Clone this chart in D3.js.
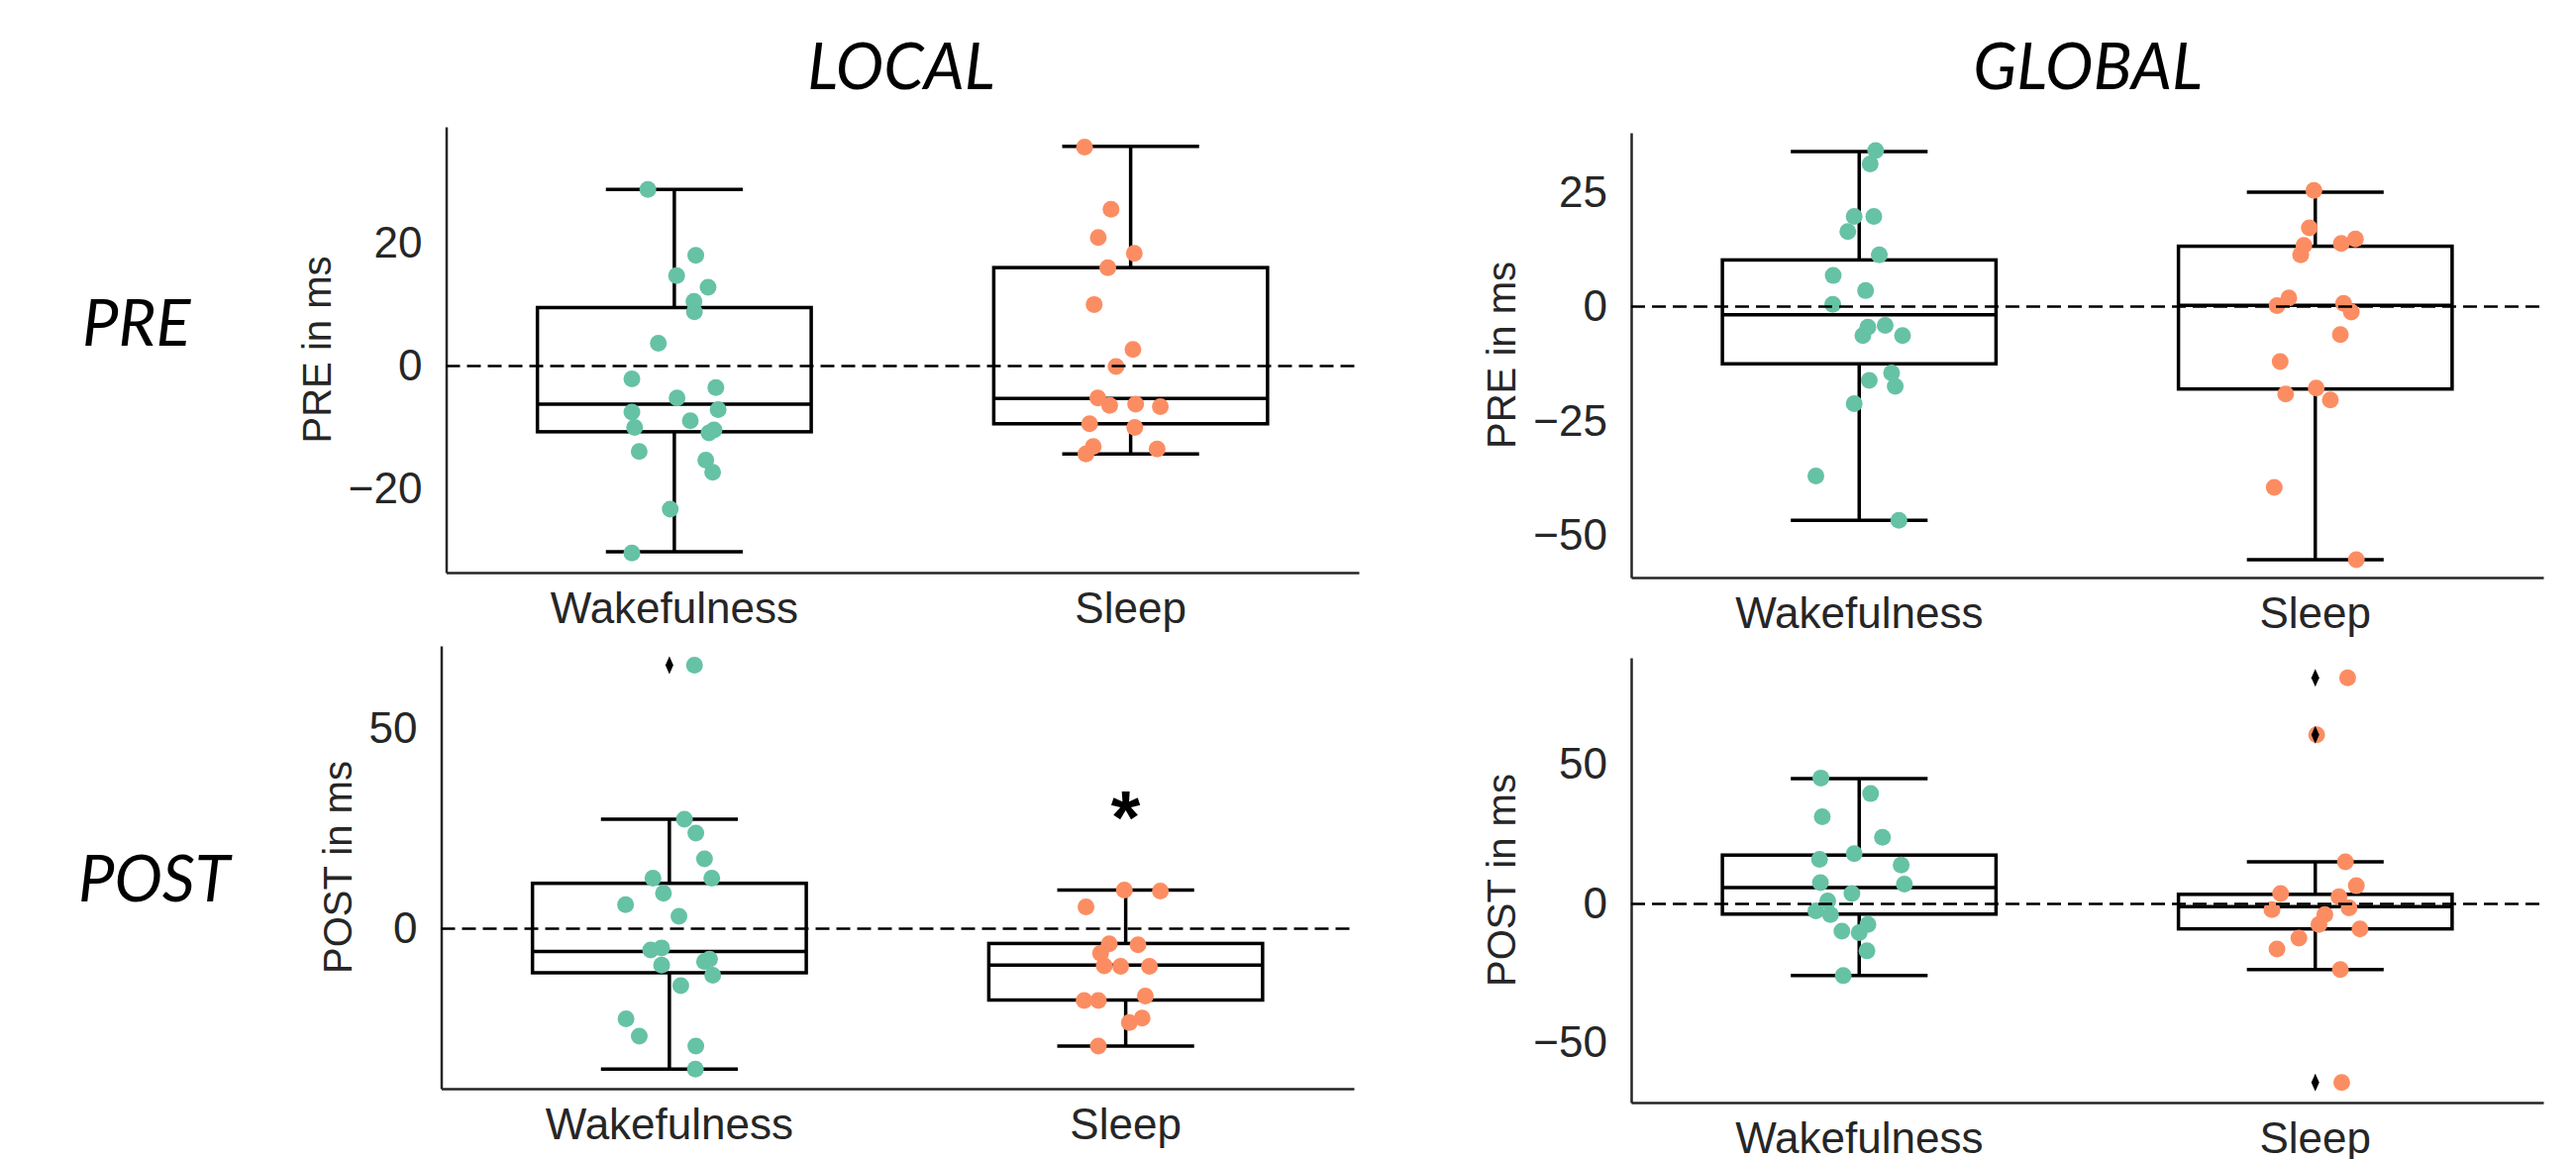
<!DOCTYPE html>
<html>
<head>
<meta charset="utf-8">
<script src="https://cdn.jsdelivr.net/npm/d3@7"></script>
<style>
  body { margin: 0; background: #fff; }
  svg { display: block; }
</style>
</head>
<body>
<svg id="chart" width="2601" height="1170"></svg>
<script>
// ---- data ----
const categories = ["Wakefulness", "Sleep"];
const columnTitles = ["LOCAL", "GLOBAL"];
const rowTitles = ["PRE", "POST"];

// box stats: [lower whisker, q1, median, q3, upper whisker]
const localPreWake = [28.7, 18.0, 14.7, 12.8, 10.5, 8.8, 3.7, -2.1, -3.5, -5.2, -7.1, -7.5, -8.9, -10.0, -10.4, -10.9, -13.9, -15.3, -17.3, -23.3, -30.4];
const localPreWakeJitter = [-0.058, 0.047, 0.005, 0.074, 0.043, 0.044, -0.035, -0.093, 0.091, 0.006, 0.096, -0.093, 0.035, -0.087, 0.087, 0.076, -0.077, 0.069, 0.084, -0.009, -0.093];
const localPreWakeBox = [-30.2, -10.7, -6.2, 9.5, 28.7];
const localPreSleep = [35.6, 25.5, 20.9, 18.3, 16.0, 10.0, 2.7, -0.1, -5.2, -6.4, -6.2, -6.6, -9.4, -10.0, -13.1, -14.3, -13.5];
const localPreSleepJitter = [-0.101, -0.043, -0.071, 0.008, -0.050, -0.080, 0.005, -0.032, -0.072, -0.046, 0.011, 0.065, -0.090, 0.009, -0.082, -0.098, 0.058];
const localPreSleepBox = [-14.3, -9.4, -5.3, 16.0, 35.7];

const globalPreWake = [34.1, 31.2, 19.7, 19.7, 16.4, 11.3, 6.8, 3.5, 0.5, -4.5, -4.1, -6.3, -6.3, -14.5, -16.1, -17.4, -21.2, -37.0, -46.7];
const globalPreWakeJitter = [0.036, 0.024, -0.011, 0.032, -0.025, 0.044, -0.057, 0.014, -0.058, 0.019, 0.057, 0.008, 0.095, 0.071, 0.022, 0.079, -0.011, -0.095, 0.087];
const globalPreWakeBox = [-46.7, -12.5, -1.8, 10.2, 33.9];
const globalPreSleep = [25.4, 17.2, 13.4, 11.3, 13.8, 14.8, 1.9, 0.2, 0.7, -1.2, -6.1, -12.0, -19.1, -17.8, -20.4, -39.5, -55.3];
const globalPreSleepJitter = [-0.003, -0.013, -0.025, -0.032, 0.057, 0.088, -0.058, -0.084, 0.062, 0.079, 0.055, -0.077, -0.065, 0.002, 0.033, -0.090, 0.090];
const globalPreSleepBox = [-55.3, -18.0, 0.3, 13.2, 25.0];

const localPostWake = [65.7, 27.3, 23.8, 17.4, 12.6, 12.6, 8.8, 6.0, 3.1, -5.3, -4.8, -7.6, -8.2, -9.1, -11.6, -14.2, -22.5, -26.8, -29.3, -35.0];
const localPostWakeJitter = [0.055, 0.033, 0.058, 0.077, -0.036, 0.093, -0.013, -0.096, 0.021, -0.041, -0.017, 0.088, 0.077, -0.017, 0.095, 0.025, -0.095, -0.066, 0.058, 0.057];
const localPostWakeBox = [-35.0, -11.0, -5.7, 11.3, 27.3];
const localPostWakeOutliers = [65.7];
const localPostSleep = [9.6, 9.4, 5.4, -3.8, -4.0, -6.1, -9.3, -9.4, -9.4, -17.9, -17.9, -16.8, -22.3, -23.4, -29.3];
const localPostSleepJitter = [-0.003, 0.076, -0.087, -0.036, 0.027, -0.055, -0.047, -0.011, 0.052, -0.091, -0.060, 0.043, 0.036, 0.008, -0.060];
const localPostSleepBox = [-29.3, -17.8, -9.1, -3.7, 9.6];

const globalPostWake = [45.2, 39.6, 31.3, 23.9, 18.0, 16.0, 13.9, 7.6, 7.1, 3.7, 1.0, -2.5, -3.9, -7.4, -9.8, -10.4, -16.9, -25.8];
const globalPostWakeJitter = [-0.084, 0.025, -0.081, 0.051, -0.011, -0.087, 0.092, -0.085, 0.099, -0.016, -0.069, -0.095, -0.063, 0.019, -0.038, 0.0, 0.017, -0.035];
const globalPostWakeBox = [-25.8, -3.7, 5.8, 17.5, 45.0];
const globalPostSleep = [81.2, 60.7, 15.1, 6.5, 3.7, 2.5, -2.1, -1.5, -3.9, -7.4, -9.0, -12.3, -16.2, -23.6, -64.2];
const globalPostSleepJitter = [0.071, 0.003, 0.066, 0.090, -0.076, 0.052, -0.095, 0.074, 0.021, 0.008, 0.098, -0.036, -0.084, 0.055, 0.058];
const globalPostSleepBox = [-23.6, -9.0, -1.0, 3.4, 15.1];
const globalPostSleepOutliers = [81.2, 60.7, -64.2];

const localPreTicks = [-20, 0, 20];
const globalPreTicks = [-50, -25, 0, 25];
const localPostTicks = [0, 50];
const globalPostTicks = [-50, 0, 50];

const localPreDomain = [-33.6, 38.9];
const globalPreDomain = [-59.2, 38.0];
const localPostDomain = [-39.9, 70.5];
const globalPostDomain = [-71.4, 88.4];

// significance mark on LOCAL POST / Sleep
const starValue = 33;

const colors = ["#66c2a5", "#fc8d62"];

// ---- panels ----
const panels = [
  { ylabel: "PRE in ms", box: { left: 450.5, right: 1372, top: 128, bottom: 578 },
    domain: localPreDomain, ticks: localPreTicks,
    groups: [
      { values: localPreWake, jitter: localPreWakeJitter, stats: localPreWakeBox, outliers: [] },
      { values: localPreSleep, jitter: localPreSleepJitter, stats: localPreSleepBox, outliers: [] }
    ] },
  { ylabel: "PRE in ms", box: { left: 1647, right: 2568, top: 134, bottom: 583 },
    domain: globalPreDomain, ticks: globalPreTicks,
    groups: [
      { values: globalPreWake, jitter: globalPreWakeJitter, stats: globalPreWakeBox, outliers: [] },
      { values: globalPreSleep, jitter: globalPreSleepJitter, stats: globalPreSleepBox, outliers: [] }
    ] },
  { ylabel: "POST in ms", box: { left: 445.5, right: 1367, top: 652, bottom: 1099 },
    domain: localPostDomain, ticks: localPostTicks, star: true,
    groups: [
      { values: localPostWake, jitter: localPostWakeJitter, stats: localPostWakeBox, outliers: localPostWakeOutliers },
      { values: localPostSleep, jitter: localPostSleepJitter, stats: localPostSleepBox, outliers: [] }
    ] },
  { ylabel: "POST in ms", box: { left: 1647, right: 2568, top: 664, bottom: 1113 },
    domain: globalPostDomain, ticks: globalPostTicks,
    groups: [
      { values: globalPostWake, jitter: globalPostWakeJitter, stats: globalPostWakeBox, outliers: [] },
      { values: globalPostSleep, jitter: globalPostSleepJitter, stats: globalPostSleepBox, outliers: globalPostSleepOutliers }
    ] }
];

const svg = d3.select("#chart");
const textColor = "#262626";
const sansFont = "'Liberation Sans', Arial, sans-serif";
const titleFont = "Lato, 'Open Sans', sans-serif";

panels.forEach(p => {
  const g = svg.append("g");
  const x = d3.scaleBand().domain(categories).range([p.box.left, p.box.right]).padding(0);
  const y = d3.scaleLinear().domain(p.domain).range([p.box.bottom, p.box.top]);
  const bw = x.bandwidth();
  const boxW = bw * 0.6;
  const capW = boxW / 2;

  // axes
  const yAxis = g.append("g")
    .attr("transform", `translate(${p.box.left},0)`)
    .call(d3.axisLeft(y).tickValues(p.ticks).tickSize(0).tickSizeOuter(0).tickPadding(24));
  const xAxis = g.append("g")
    .attr("transform", `translate(0,${p.box.bottom})`)
    .call(d3.axisBottom(x).tickSize(0).tickSizeOuter(0).tickPadding(20));
  [yAxis, xAxis].forEach(a => {
    a.select(".domain").attr("stroke", textColor).attr("stroke-width", 2.5);
    a.selectAll("text")
      .attr("fill", textColor)
      .style("font-family", sansFont)
      .style("font-size", "44px");
  });

  // y label placed left of the tick labels
  let minX = Infinity;
  yAxis.selectAll(".tick text").each(function () {
    const b = this.getBBox();
    const tx = p.box.left + b.x;
    if (tx < minX) minX = tx;
  });
  const cy = (p.box.top + p.box.bottom) / 2;
  g.append("text")
    .attr("transform", `translate(${minX - 18},${cy}) rotate(-90)`)
    .attr("text-anchor", "middle")
    .attr("fill", textColor)
    .style("font-family", sansFont)
    .style("font-size", "40px")
    .text(p.ylabel);

  // boxes
  p.groups.forEach((grp, i) => {
    const cx = x(categories[i]) + bw / 2;
    const [wLo, q1, med, q3, wHi] = grp.stats;
    const bg = g.append("g")
      .attr("stroke", "#000")
      .attr("stroke-width", 3.5)
      .attr("fill", "none");
    bg.append("rect")
      .attr("x", cx - boxW / 2).attr("width", boxW)
      .attr("y", y(q3)).attr("height", y(q1) - y(q3))
      .attr("fill", "#fff");
    bg.append("line").attr("x1", cx - boxW / 2).attr("x2", cx + boxW / 2)
      .attr("y1", y(med)).attr("y2", y(med));
    bg.append("line").attr("x1", cx).attr("x2", cx).attr("y1", y(q3)).attr("y2", y(wHi));
    bg.append("line").attr("x1", cx).attr("x2", cx).attr("y1", y(q1)).attr("y2", y(wLo));
    bg.append("line").attr("x1", cx - capW / 2).attr("x2", cx + capW / 2)
      .attr("y1", y(wHi)).attr("y2", y(wHi));
    bg.append("line").attr("x1", cx - capW / 2).attr("x2", cx + capW / 2)
      .attr("y1", y(wLo)).attr("y2", y(wLo));
  });

  // strip points
  p.groups.forEach((grp, i) => {
    const cx = x(categories[i]) + bw / 2;
    g.selectAll(null)
      .data(grp.values.map((v, k) => ({ v, j: grp.jitter[k] })))
      .enter().append("circle")
      .attr("cx", d => cx + d.j * bw)
      .attr("cy", d => y(d.v))
      .attr("r", 8.5)
      .attr("fill", colors[i]);
  });

  // outlier markers (thin diamonds), on top of the points
  p.groups.forEach((grp, i) => {
    const cx = x(categories[i]) + bw / 2;
    g.selectAll(null)
      .data(grp.outliers)
      .enter().append("path")
      .attr("d", "M0,-9L4,0L0,9L-4,0Z")
      .attr("fill", "#000")
      .attr("transform", d => `translate(${cx},${y(d)})`);
  });

  // zero reference line
  g.append("line")
    .attr("x1", p.box.left).attr("x2", p.box.right)
    .attr("y1", y(0)).attr("y2", y(0))
    .attr("stroke", "#000")
    .attr("stroke-width", 2.5)
    .attr("stroke-dasharray", "14 7");

  if (p.star) {
    g.append("text")
      .attr("x", x("Sleep") + bw / 2)
      .attr("y", y(starValue))
      .attr("dy", "0.62em")
      .attr("text-anchor", "middle")
      .attr("fill", "#000")
      .style("font-family", sansFont)
      .style("font-weight", "bold")
      .style("font-size", "76px")
      .text("*");
  }
});

// column and row titles
svg.selectAll(".coltitle")
  .data(columnTitles)
  .enter().append("text")
  .attr("class", "coltitle")
  .attr("x", (d, i) => [910, 2108][i])
  .attr("y", 90)
  .attr("text-anchor", "middle")
  .style("font-family", titleFont)
  .style("font-style", "italic")
  .style("font-size", "65px")
  .text(d => d);

svg.selectAll(".rowtitle")
  .data(rowTitles)
  .enter().append("text")
  .attr("class", "rowtitle")
  .attr("x", (d, i) => [83, 79][i])
  .attr("y", (d, i) => [349, 910][i])
  .style("font-family", titleFont)
  .style("font-style", "italic")
  .style("font-size", "65px")
  .text(d => d);
</script>
</body>
</html>
